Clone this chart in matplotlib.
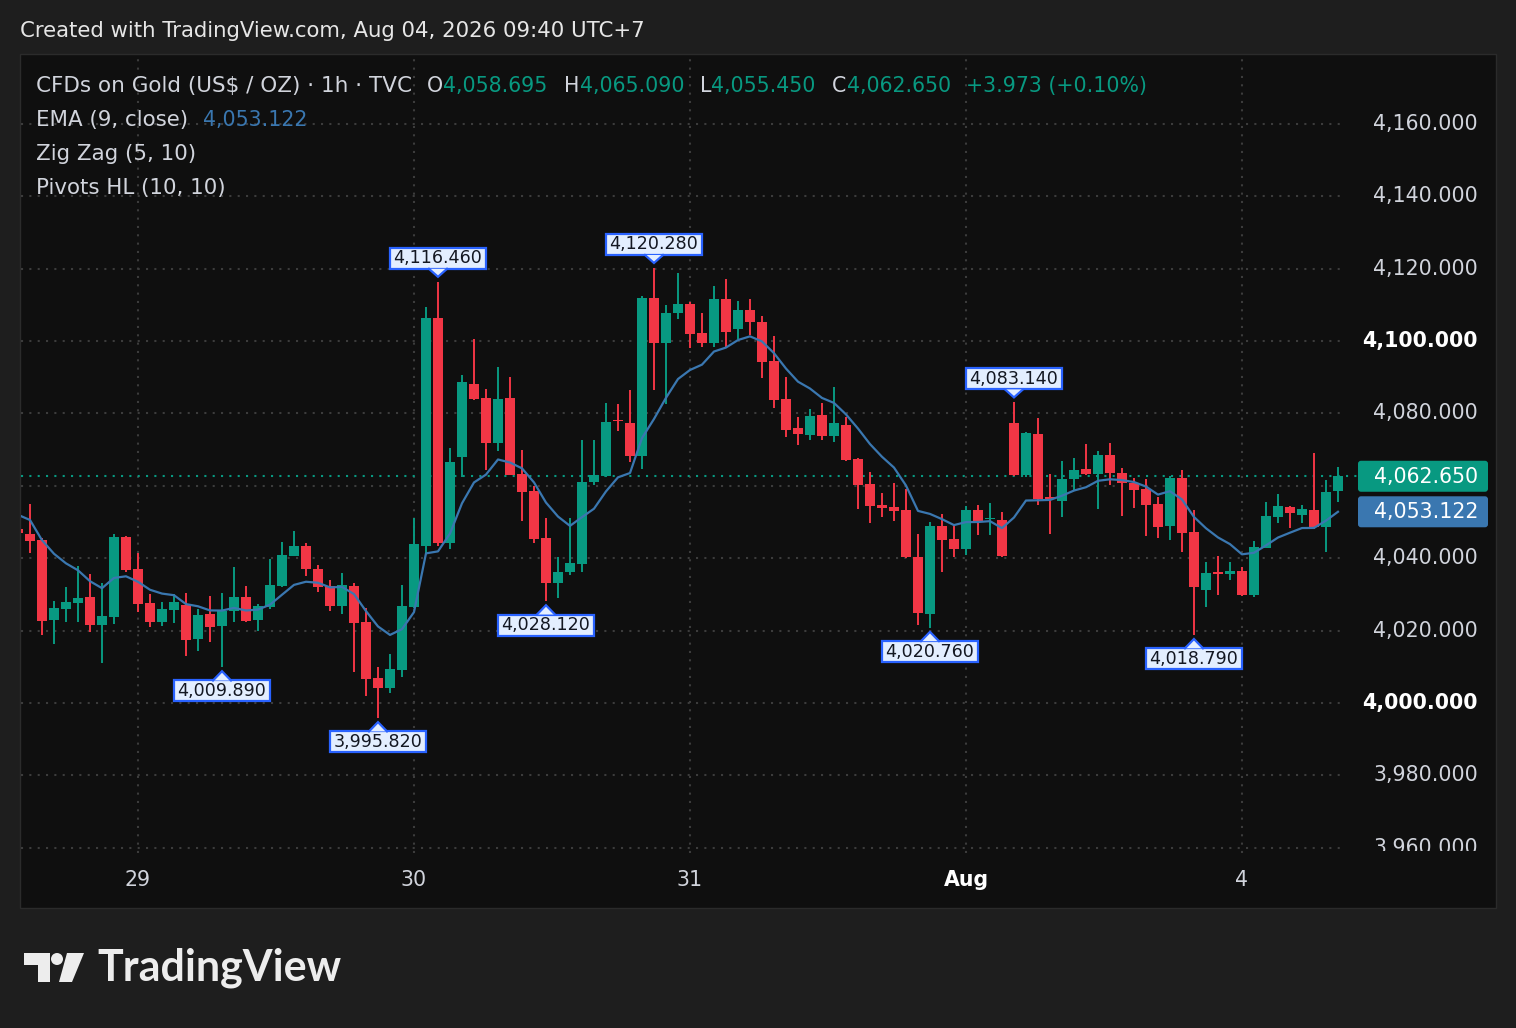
import numpy as np
import matplotlib
matplotlib.use("Agg")
import matplotlib.pyplot as plt
from matplotlib.patches import Rectangle, FancyBboxPatch, Polygon, Circle

W, H = 1516, 1028

# hourly OHLC, first bar is the clipped one at the left edge
opens = [4048.1, 4046.7, 4045.0, 4022.9, 4026.0, 4027.6, 4029.3, 4021.6, 4023.8, 4045.9,
         4036.9, 4027.6, 4022.5, 4025.7, 4027.0, 4017.7, 4024.6, 4021.3, 4025.4, 4029.3,
         4022.9, 4026.4, 4032.4, 4040.7, 4043.5, 4037.0, 4032.4, 4026.8, 4032.4, 4022.4,
         4006.8, 4004.2, 4009.1, 4026.6, 4043.4, 4106.3, 4044.3, 4068.1, 4088.1, 4084.2,
         4071.9, 4084.3, 4063.3, 4058.6, 4045.6, 4033.1, 4036.3, 4038.3, 4061.0, 4062.7,
         4078.1, 4077.3, 4068.3, 4111.8, 4099.6, 4107.7, 4110.3, 4102.3, 4099.4, 4111.6,
         4103.3, 4108.6, 4105.3, 4094.5, 4084.0, 4076.1, 4074.1, 4079.6, 4073.9, 4076.8,
         4067.4, 4060.5, 4054.7, 4054.2, 4053.3, 4040.4, 4024.6, 4048.9, 4045.3, 4042.6,
         4053.3, 4050.8, 4050.6, 4077.5, 4063.0, 4074.3, 4057.0, 4055.9, 4061.9, 4064.7,
         4063.3, 4068.5, 4063.5, 4060.7, 4059.1, 4055.0, 4049.0, 4062.3, 4047.2, 4031.2,
         4036.1, 4035.6, 4036.5, 4029.8, 4042.9, 4051.5, 4054.1, 4052.0, 4053.3, 4048.7,
         4058.695]
highs = [4048.9, 4055.0, 4045.6, 4028.2, 4032.0, 4037.9, 4035.6, 4033.2, 4046.7, 4046.1,
         4041.5, 4030.1, 4028.0, 4030.1, 4030.3, 4026.0, 4029.5, 4030.3, 4037.5, 4032.3,
         4027.4, 4039.8, 4044.4, 4047.5, 4044.2, 4038.1, 4034.0, 4036.0, 4033.2, 4026.2,
         4010.0, 4013.5, 4032.6, 4051.0, 4109.5, 4116.46, 4070.4, 4090.6, 4100.6, 4086.8,
         4092.8, 4090.0, 4069.9, 4060.0, 4051.0, 4040.3, 4051.0, 4072.7, 4072.7, 4082.8,
         4082.6, 4086.5, 4112.5, 4120.28, 4110.0, 4118.9, 4110.9, 4107.7, 4115.2, 4117.2,
         4111.1, 4111.6, 4106.9, 4101.4, 4090.2, 4079.1, 4081.2, 4082.8, 4087.2, 4079.1,
         4067.6, 4063.7, 4058.0, 4060.8, 4059.1, 4046.7, 4050.1, 4052.2, 4049.5, 4054.4,
         4054.7, 4055.2, 4052.7, 4083.14, 4075.0, 4078.8, 4063.3, 4067.0, 4067.6, 4071.6,
         4069.6, 4071.8, 4064.9, 4062.1, 4061.8, 4056.8, 4062.6, 4064.4, 4053.3, 4038.9,
         4040.6, 4038.9, 4037.7, 4044.8, 4055.6, 4057.8, 4054.5, 4054.7, 4069.2, 4061.6,
         4065.09]
lows = [4046.4, 4041.4, 4018.8, 4016.3, 4022.5, 4022.5, 4019.6, 4011.1, 4021.9, 4036.3,
        4025.2, 4021.0, 4021.3, 4022.0, 4013.1, 4014.5, 4016.9, 4009.89, 4022.5, 4022.5,
        4020.0, 4026.0, 4032.1, 4040.5, 4035.2, 4030.8, 4025.5, 4024.6, 4008.6, 4002.0,
        3995.82, 4002.8, 4007.3, 4026.3, 4041.5, 4043.4, 4042.5, 4062.5, 4083.7, 4064.4,
        4069.7, 4062.9, 4050.4, 4044.1, 4028.12, 4028.9, 4035.4, 4036.3, 4060.1, 4062.4,
        4075.2, 4066.7, 4064.7, 4086.5, 4082.6, 4106.1, 4098.2, 4098.5, 4098.5, 4098.3,
        4100.5, 4101.7, 4089.9, 4081.6, 4073.6, 4071.3, 4072.7, 4072.7, 4072.2, 4066.9,
        4053.6, 4049.8, 4051.5, 4050.4, 4040.1, 4021.6, 4020.76, 4036.3, 4040.4, 4040.9,
        4046.4, 4046.4, 4040.4, 4062.7, 4062.5, 4054.7, 4046.7, 4051.5, 4058.9, 4063.1,
        4053.6, 4060.2, 4051.8, 4054.0, 4046.2, 4045.7, 4045.0, 4041.8, 4018.79, 4026.4,
        4029.8, 4034.0, 4029.6, 4029.4, 4042.7, 4049.7, 4048.4, 4049.7, 4048.0, 4041.8,
        4055.45]
closes = [4047.0, 4044.8, 4022.7, 4026.2, 4028.0, 4029.0, 4021.6, 4024.0, 4045.9, 4036.8,
          4027.4, 4022.5, 4026.0, 4028.0, 4017.5, 4024.3, 4021.0, 4025.4, 4029.2, 4022.7,
          4026.8, 4032.6, 4040.9, 4043.5, 4037.0, 4032.1, 4026.8, 4032.6, 4022.2, 4006.6,
          4004.2, 4009.4, 4026.8, 4043.9, 4106.3, 4044.1, 4066.5, 4088.6, 4084.0, 4071.8,
          4084.0, 4063.1, 4058.4, 4045.4, 4033.1, 4036.1, 4038.6, 4061.0, 4063.0, 4077.6,
          4077.9, 4068.3, 4111.8, 4099.6, 4107.7, 4110.3, 4102.0, 4099.4, 4111.6, 4102.6,
          4108.6, 4105.4, 4094.3, 4083.7, 4075.4, 4074.3, 4079.3, 4073.9, 4077.4, 4067.1,
          4060.2, 4054.4, 4054.0, 4053.1, 4040.3, 4025.0, 4048.9, 4045.0, 4042.6, 4053.3,
          4050.1, 4051.2, 4040.6, 4063.0, 4074.7, 4056.3, 4056.5, 4061.9, 4064.4, 4063.3,
          4068.5, 4063.5, 4060.7, 4058.9, 4054.8, 4048.7, 4062.3, 4047.1, 4032.1, 4035.8,
          4035.6, 4036.5, 4029.8, 4043.2, 4051.7, 4054.4, 4052.4, 4053.5, 4048.5, 4058.4,
          4062.65]

ema_seed = 4052.0
ema_last = "4,053.122"

day_pos = [10, 33, 56, 79, 102]
day_labels = ["29", "30", "31", "Aug", "4"]
day_bold = [False, False, False, True, False]

grid_prices = [3960, 3980, 4000, 4020, 4040, 4060, 4080, 4100, 4120, 4140, 4160]
# 4,060 sits under the last-price tag, so it has no label
label_prices = [3960, 3980, 4000, 4020, 4040, 4080, 4100, 4120, 4140, 4160]
bold_prices = [4000, 4100]

pivot_idx = [17, 30, 35, 44, 53, 76, 83, 98]
pivot_price = [4009.89, 3995.82, 4116.46, 4028.12, 4120.28, 4020.76, 4083.14, 4018.79]
pivot_kind = ["L", "L", "H", "L", "H", "L", "H", "L"]

header = "Created with TradingView.com, Aug 04, 2026 09:40 UTC+7"
title = "CFDs on Gold (US$ / OZ) \u00b7 1h \u00b7 TVC"
ohlc_keys = ["O", "H", "L", "C"]
ohlc_vals = ["4,058.695", "4,065.090", "4,055.450", "4,062.650"]
change = "+3.973 (+0.10%)"
indicators = ["EMA (9, close)", "Zig Zag (5, 10)", "Pivots HL (10, 10)"]

UP = "#089981"
DOWN = "#F23645"
EMA_C = "#3A77B0"
GRID = "#3C3C3C"
TXT = "#D1D4DC"
PANEL = "#0F0F0F"

fig = plt.figure(figsize=(W / 100, H / 100), dpi=100, facecolor="#1E1E1E")

# background panel
bg = fig.add_axes([0, 0, 1, 1], zorder=0)
bg.set_xlim(0, W)
bg.set_ylim(H, 0)
bg.axis("off")
bg.add_patch(Rectangle((20, 54), 1476, 854, fc=PANEL, ec="#2B2B2B", lw=1))

# main chart
ax = fig.add_axes([21 / W, (H - 853) / H, (1346 - 21) / W, (853 - 55) / H], zorder=1)
ax.set_facecolor("none")
ax.set_xlim(0.25, 110.67)
ax.set_ylim(3958.55, 4179.05)
for s in ax.spines.values():
    s.set_visible(False)
ax.set_xticks([])
ax.set_yticks([])

dots = (0, (1, 3))
for p in grid_prices:
    ax.axhline(p, color=GRID, lw=1.5, ls=dots, zorder=1)
for d in day_pos:
    ax.axvline(d, color=GRID, lw=1.5, ls=dots, zorder=1)

o = np.array(opens)
c = np.array(closes)
x = np.arange(len(o))
cols = np.where(c >= o, UP, DOWN)
ax.vlines(x, lows, highs, colors=cols, lw=1.4, zorder=3)
ax.bar(x, np.maximum(np.abs(c - o), 0.3), bottom=np.minimum(o, c), width=0.82,
       color=cols, lw=0, zorder=4)

ema = np.empty(len(c))
ema[0] = ema_seed
for i in range(1, len(c)):
    ema[i] = ema[i - 1] + 0.2 * (c[i] - ema[i - 1])
ax.plot(x, ema, color=EMA_C, lw=1.6, zorder=5)

ax.axhline(c[-1], color=UP, lw=1.5, ls=dots, zorder=2)

for d, lab, b in zip(day_pos, day_labels, day_bold):
    ax.text(d, -0.034, lab, transform=ax.get_xaxis_transform(), ha="center", va="center",
            fontsize=14.8, color="white" if b else TXT, fontweight="bold" if b else "normal")

# price scale, bottom label gets cut like in the app
axp = fig.add_axes([1346 / W, (H - 851) / H, 150 / W, (851 - 55) / H], zorder=1)
axp.set_facecolor("none")
axp.set_xlim(1346, 1496)
axp.set_ylim(3959.1, 4179.05)
axp.axis("off")
for p in label_prices:
    b = p in bold_prices
    axp.text(1478, p, f"{p:,.3f}", ha="right", va="center", fontsize=14.8,
             color="white" if b else TXT, fontweight="bold" if b else "normal", clip_on=True)
axp.plot([1346, 1360], [c[-1], c[-1]], color=UP, lw=1.5, ls=dots)

# overlay in pixel coordinates
ov = fig.add_axes([0, 0, 1, 1], zorder=5)
ov.set_facecolor("none")
ov.set_xlim(0, W)
ov.set_ylim(H, 0)
ov.axis("off")


def px(i, price):
    xx, yy = ax.transData.transform((i, price))
    return xx, H - yy


# last price / ema tags
for val, col, lab in [(c[-1], UP, ohlc_vals[3]), (ema[-1], EMA_C, ema_last)]:
    _, yy = px(0, val)
    ov.add_patch(FancyBboxPatch((1358, yy - 15.5), 130, 31, boxstyle="round,pad=0,rounding_size=3",
                                fc=col, ec="none"))
    ov.text(1478, yy + 0.5, lab, ha="right", va="center", fontsize=14.8, color="white")

# pivot labels
LBL_FC = "#E3EEFF"
LBL_EC = "#2962FF"
for i, p, k in zip(pivot_idx, pivot_price, pivot_kind):
    cx, cy = px(i, p)
    if k == "H":
        tip, base, top = cy - 4.7, cy - 12.7, cy - 33.7
    else:
        tip, base, top = cy + 4.0, cy + 13.3, cy + 34.3
    y0 = min(base, top)
    ov.add_patch(Rectangle((cx - 48, y0), 96, 21, fc=LBL_FC, ec=LBL_EC, lw=1.6, zorder=6))
    ov.add_patch(Polygon([(cx - 9, base), (cx, tip), (cx + 9, base)], closed=True,
                         fc=LBL_FC, ec="none", zorder=7))
    ov.plot([cx - 9, cx, cx + 9], [base, tip, base], color=LBL_EC, lw=1.6, zorder=8,
            solid_joinstyle="miter")
    ov.text(cx, y0 + 10.5, f"{p:,.3f}", ha="center", va="center", fontsize=12.6,
            color="#131722", zorder=9)

# legend
ov.text(20, 31, header, ha="left", va="center", fontsize=15.3, color="#E6E6E6")
ov.text(36, 86, title, ha="left", va="center", fontsize=15.5, color=TXT)
key_x = [427, 564, 700, 832]
val_x = [443, 580, 711, 847]
for kx, vx, kk, vv in zip(key_x, val_x, ohlc_keys, ohlc_vals):
    ov.text(kx, 86, kk, ha="left", va="center", fontsize=14.8, color=TXT)
    ov.text(vx, 86, vv, ha="left", va="center", fontsize=14.8, color=UP)
ov.text(966, 86, change, ha="left", va="center", fontsize=14.8, color=UP)
for n, lab in enumerate(indicators):
    ov.text(36, 120 + 34 * n, lab, ha="left", va="center", fontsize=15.4, color=TXT)
ov.text(203, 120, ema_last, ha="left", va="center", fontsize=14.8, color=EMA_C)

# TradingView logo
LOGO = "#EDEDED"
ov.add_patch(Polygon([(24, 953), (50, 953), (50, 982), (38, 982), (38, 965), (24, 965)],
                     closed=True, fc=LOGO, ec="none"))
ov.add_patch(Circle((57, 959), 6, fc=LOGO, ec="none"))
ov.add_patch(Polygon([(67, 953), (84, 953), (72, 982), (59, 982)], closed=True, fc=LOGO, ec="none"))
ov.text(97, 968, "TradingView", ha="left", va="center", fontsize=31, fontweight="bold",
        family="Lato", color=LOGO)

fig.savefig("out.png", dpi=100, facecolor=fig.get_facecolor())
